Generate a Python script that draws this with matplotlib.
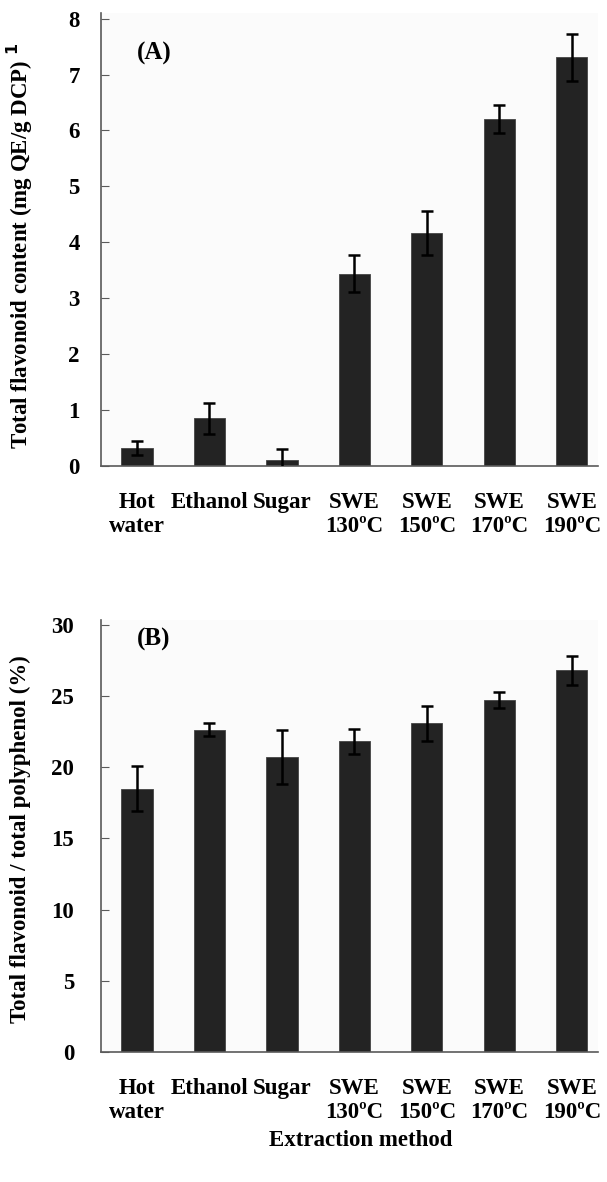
import numpy as np
import matplotlib
matplotlib.use('Agg')
import matplotlib.pyplot as plt

plt.rcParams['font.family'] = ['Liberation Serif', 'DejaVu Serif']
plt.rcParams['font.weight'] = 'bold'

methods = ['Hot\nwater', 'Ethanol', 'Sugar', 'SWE\n130\u00baC', 'SWE\n150\u00baC',
           'SWE\n170\u00baC', 'SWE\n190\u00baC']

# (A) total flavonoid content, mg QE/g DCP
flav = [0.32, 0.85, 0.11, 3.44, 4.17, 6.21, 7.31]
flav_err = [0.13, 0.27, 0.19, 0.33, 0.39, 0.25, 0.42]

# (B) total flavonoid / total polyphenol, %
ratio = [18.5, 22.65, 20.75, 21.83, 23.08, 24.72, 26.8]
ratio_err = [1.57, 0.45, 1.9, 0.87, 1.22, 0.54, 1.0]

bar_col = '#232323'
spine_col = '#5a5a5a'

fig = plt.figure(figsize=(6.07, 11.82), dpi=100)
axA = fig.add_axes([0.166, 0.6058, 0.819, 0.3832])
axB = fig.add_axes([0.166, 0.110, 0.819, 0.3655])

def draw_panel(ax, vals, errs, ymax, ytop, step, tag, tag_y, ypad):
    x = np.arange(len(methods))
    ax.set_facecolor('#fbfbfb')
    ax.bar(x, vals, width=0.43, color=bar_col, edgecolor='#444444', linewidth=0.6, zorder=2)
    ax.errorbar(x, vals, yerr=errs, fmt='none', ecolor='black', elinewidth=1.8,
                capsize=4.5, capthick=1.8, zorder=3)
    ax.set_xlim(-0.5, 6.36)
    ax.set_ylim(0, ytop)
    ax.set_yticks(np.arange(0, ymax + step / 2, step))
    ax.set_xticks(x)
    ax.set_xticklabels(methods, fontsize=16.5, fontweight='bold', linespacing=1.15)
    ax.tick_params(axis='x', length=0, pad=19)
    ax.tick_params(axis='y', direction='in', length=5.5, color=spine_col, labelsize=16.5,
                   pad=ypad)
    for lab in ax.get_yticklabels():
        lab.set_fontweight('bold')
    for s in ['top', 'right']:
        ax.spines[s].set_visible(False)
    for s in ['left', 'bottom']:
        ax.spines[s].set_color(spine_col)
        ax.spines[s].set_linewidth(1.2)
    ax.text(0.072, tag_y, tag, transform=ax.transAxes, fontsize=18, fontweight='bold',
            va='center', ha='left')

draw_panel(axA, flav, flav_err, 8, 8.1, 1, '(A)', 0.91, 15)
draw_panel(axB, ratio, ratio_err, 30, 30.35, 5, '(B)', 0.955, 19)

fig.text(0.033, 1 - 246 / 1182, 'Total flavonoid content (mg QE/g DCP) $^{\\mathbf{1}}$',
         rotation=90, ha='center', va='center', fontsize=16.5, fontweight='bold')
fig.text(0.033, 1 - 839 / 1182, 'Total flavonoid / total polyphenol (%)',
         rotation=90, ha='center', va='center', fontsize=16.5, fontweight='bold')

fig.text(0.595, 1 - 1140 / 1182, 'Extraction method', ha='center', va='center',
         fontsize=16.5, fontweight='bold')

fig.savefig('out.png', dpi=100)
